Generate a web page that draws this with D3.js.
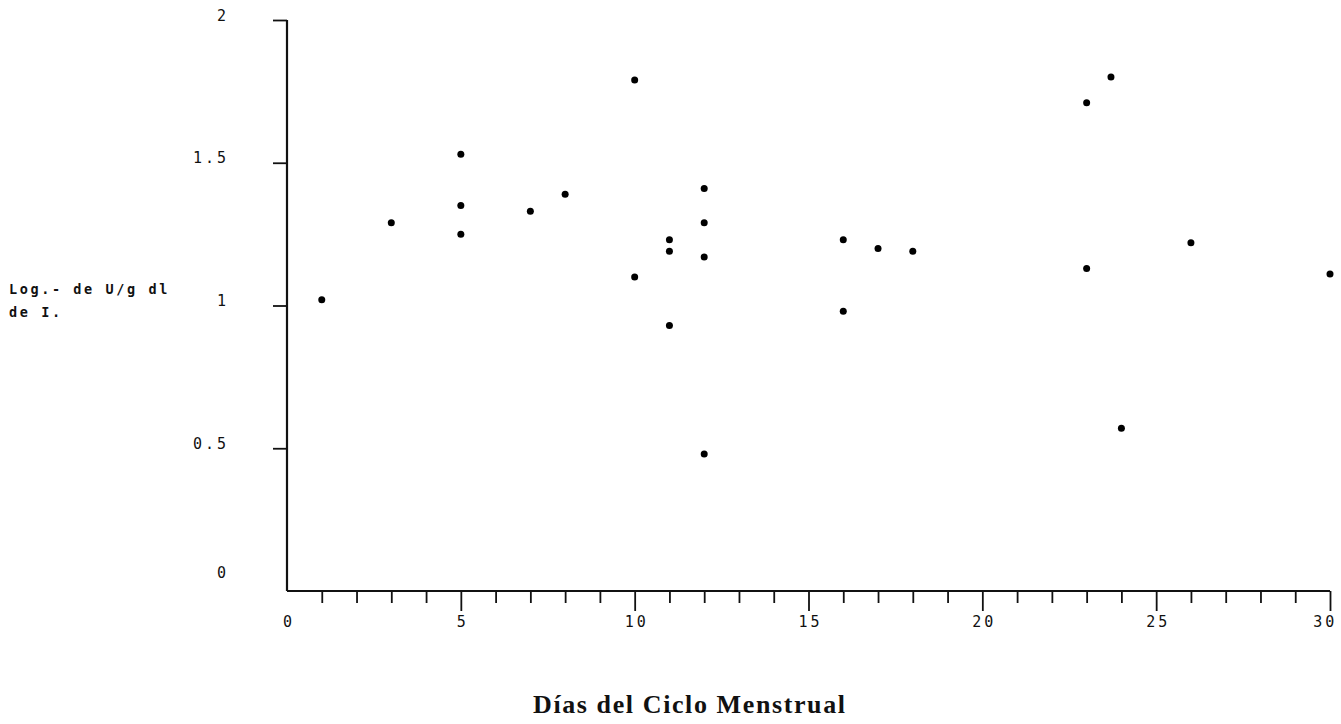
<!DOCTYPE html>
<html>
<head>
<meta charset="utf-8">
<script src="https://cdn.jsdelivr.net/npm/d3@7"></script>
<style>
  html, body { margin: 0; padding: 0; background: #fff; }
  svg { display: block; }
  .tick-lbl { font-family: "DejaVu Sans Mono", monospace; font-size: 15px; letter-spacing: 3px; fill: #111; }
</style>
</head>
<body>
<div id="chart"></div>
<script>
// days of the cycle and log values
const days = [1, 3, 5, 5, 5, 7, 8, 10, 10, 11, 11, 11, 12, 12, 12, 12, 16, 16, 17, 18, 23, 23.7, 23, 24, 26, 30];
const logValues = [1.02, 1.29, 1.53, 1.35, 1.25, 1.33, 1.39, 1.79, 1.10, 1.23, 1.19, 0.93, 1.41, 1.29, 1.17, 0.48, 1.23, 0.98, 1.20, 1.19, 1.71, 1.80, 1.13, 0.57, 1.22, 1.11];

const xMajorTicks = [0, 5, 10, 15, 20, 25, 30];
const xMinorTicks = d3.range(1, 31).filter(d => d % 5 !== 0);
const yTicks = [0, 0.5, 1, 1.5, 2];
const yLabelLines = ["Log.- de U/g dl", "de I."];
const xTitle = "Días del Ciclo Menstrual";

const width = 1341, height = 724;

const svg = d3.select("#chart").append("svg")
  .attr("width", width)
  .attr("height", height);

const x = d3.scaleLinear().domain([0, 30]).range([287, 1330]);
const y = d3.scaleLinear().domain([0, 2]).range([591, 20]);

// x axis: minor ticks every day, longer ones every 5
const gx = svg.append("g").attr("transform", `translate(0,${y(0)})`);

gx.append("g")
  .call(d3.axisBottom(x).tickValues(xMinorTicks).tickSize(12).tickFormat(""))
  .call(g => g.select(".domain").remove());

gx.append("g")
  .call(d3.axisBottom(x).tickValues(xMajorTicks).tickSize(20).tickFormat(d3.format("d")))
  .call(g => g.select(".domain").remove())
  .call(g => g.selectAll(".tick").filter(d => d === 0).select("line").remove())
  .call(g => g.selectAll(".tick text")
    .attr("class", "tick-lbl")
    .attr("y", 25)
    .attr("dy", "0.71em")
    .attr("dx", d => d === 30 ? "-0.35em" : "0.1em")
    .attr("font-family", null).attr("font-size", null));

gx.selectAll(".tick line").attr("stroke", "#111").attr("stroke-width", 1.8);

// y axis
const gy = svg.append("g").attr("transform", `translate(${x(0)},0)`)
  .call(d3.axisLeft(y).tickValues(yTicks).tickSize(14).tickPadding(44)
    .tickFormat(d => String(d)))
  .call(g => g.select(".domain").remove())
  .call(g => g.selectAll(".tick").filter(d => d === 0).select("line").remove());

gy.selectAll(".tick line").attr("stroke", "#111").attr("stroke-width", 1.8);
gy.selectAll(".tick text")
  .attr("class", "tick-lbl")
  .attr("font-family", null).attr("font-size", null)
  .attr("dy", d => d === 0 ? "-0.9em" : "0");

// axis lines
svg.append("line")
  .attr("x1", x(0)).attr("x2", x(0))
  .attr("y1", y(2)).attr("y2", y(0))
  .attr("stroke", "#111").attr("stroke-width", 2.2);

svg.append("line")
  .attr("x1", x(0)).attr("x2", x(30))
  .attr("y1", y(0)).attr("y2", y(0))
  .attr("stroke", "#111").attr("stroke-width", 2.2);

// points
const points = days.map((d, i) => ({ day: d, value: logValues[i] }));

svg.append("g").selectAll("circle")
  .data(points)
  .join("circle")
  .attr("cx", d => x(d.day))
  .attr("cy", d => y(d.value))
  .attr("r", 3.5)
  .attr("fill", "#000");

// y label
const yl = svg.append("text")
  .attr("font-family", "'DejaVu Sans Mono', monospace")
  .attr("font-weight", "bold")
  .attr("font-size", 13.5)
  .attr("letter-spacing", "2.6px")
  .attr("fill", "#111");

yl.selectAll("tspan")
  .data(yLabelLines)
  .join("tspan")
  .attr("x", 9)
  .attr("y", (d, i) => 294 + i * 23)
  .text(d => d);

// x title
svg.append("text")
  .attr("x", 689)
  .attr("y", 713)
  .attr("text-anchor", "middle")
  .attr("font-family", "'Liberation Serif', 'Times New Roman', serif")
  .attr("font-weight", "bold")
  .attr("font-size", 26)
  .attr("textLength", 312)
  .attr("lengthAdjust", "spacing")
  .attr("fill", "#111")
  .text(xTitle);
</script>
</body>
</html>
